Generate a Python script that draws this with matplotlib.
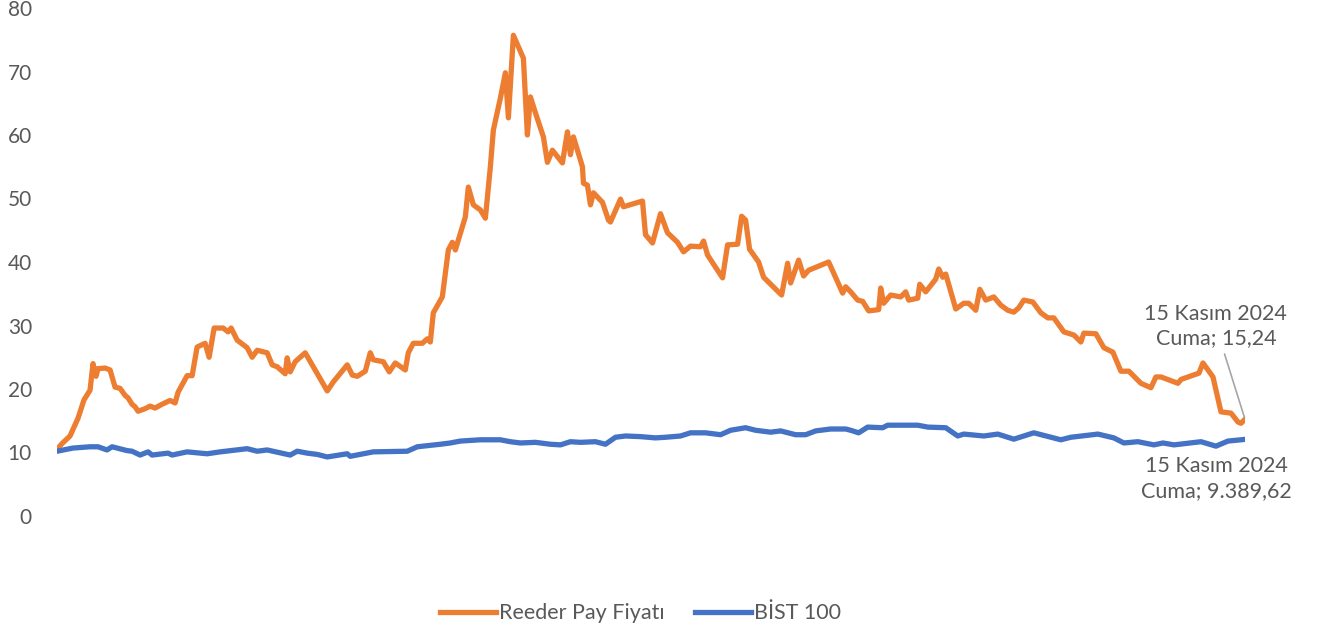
import matplotlib
matplotlib.use("Agg")
import matplotlib.pyplot as plt

# Trading-day positions (relative) and values
reeder_x = [0, 5, 13, 21, 27, 33, 36, 39, 41, 48, 53, 58, 63, 68, 71, 75, 78, 81, 88, 93, 98, 105,
            113, 118, 121, 130, 135, 140, 148, 152, 157, 166, 171, 174, 180, 190, 195, 200, 210, 215,
            220, 228, 230, 233, 238, 248, 270, 276, 290, 295, 300, 308, 313, 316, 326, 332, 338, 348,
            351, 356, 365, 370, 373, 376, 385, 391, 395, 398, 408, 411, 416, 423, 428, 433, 436, 443,
            448, 451, 456, 461, 466, 470, 473, 478, 486, 490, 495, 505, 510, 513, 516, 525, 526, 530,
            533, 536, 545, 551, 553, 563, 566, 585, 588, 595, 603, 610, 620, 626, 633, 643, 646, 650,
            665, 670, 680, 684, 688, 692, 701, 706, 724, 730, 733, 741, 746, 751, 771, 785, 788, 793,
            800, 805, 811, 821, 823, 826, 833, 843, 848, 851, 860, 862, 868, 878, 881, 885, 888, 898,
            906, 911, 918, 922, 928, 936, 943, 950, 956, 961, 966, 975, 983, 990, 996, 1006, 1016,
            1023, 1026, 1038, 1046, 1055, 1063, 1071, 1083, 1093, 1098, 1103, 1120, 1123, 1141, 1145,
            1155, 1163, 1173, 1180, 1183, 1187]
reeder = [10.5, 11.4, 12.6, 15.4, 18.3, 19.8, 24.0, 22.0, 23.2, 23.3, 23.0, 20.3, 20.1, 19.0, 18.6,
          17.6, 17.2, 16.5, 16.9, 17.3, 17.0, 17.6, 18.2, 17.8, 19.5, 22.1, 22.1, 26.6, 27.2, 25.0,
          29.6, 29.6, 29.0, 29.6, 27.7, 26.5, 25.0, 26.1, 25.7, 23.8, 23.5, 22.4, 24.9, 22.7, 24.3,
          25.7, 19.7, 21.1, 23.8, 22.2, 22.0, 22.8, 25.7, 24.6, 24.3, 22.7, 24.1, 23.0, 25.7, 27.2,
          27.2, 27.9, 27.4, 32.0, 34.5, 41.9, 43.1, 41.9, 47.1, 51.8, 49.0, 48.2, 46.9, 55.0, 60.8,
          65.8, 69.8, 62.7, 75.7, 73.9, 72.1, 60.0, 66.0, 63.5, 59.7, 55.7, 57.6, 55.6, 60.5, 56.9,
          59.7, 55.0, 52.4, 52.1, 49.0, 50.9, 49.4, 46.6, 46.3, 49.9, 48.7, 49.6, 44.3, 43.0, 47.6,
          44.6, 43.1, 41.6, 42.5, 42.4, 43.3, 41.1, 37.5, 42.7, 42.8, 47.2, 46.6, 42.0, 40.0, 37.6,
          34.8, 39.8, 36.7, 40.3, 37.8, 38.7, 40.0, 35.1, 36.1, 35.3, 34.0, 33.8, 32.3, 32.5, 35.9,
          33.5, 34.8, 34.5, 35.3, 34.0, 34.3, 36.5, 35.3, 37.3, 38.9, 37.6, 38.1, 32.6, 33.5, 33.5,
          32.4, 35.7, 34.0, 34.5, 33.2, 32.4, 32.1, 32.8, 34.0, 33.7, 32.0, 31.2, 31.2, 29.0, 28.5,
          27.4, 28.8, 28.7, 26.5, 25.8, 22.8, 22.8, 20.9, 20.2, 21.9, 21.9, 20.9, 21.5, 22.5, 24.1,
          21.9, 16.4, 16.2, 14.8, 14.6, 15.24]

bist_x = [0, 16, 33, 41, 50, 55, 70, 75, 83, 91, 95, 111, 115, 130, 150, 163, 190, 200, 210, 233,
          240, 250, 260, 270, 290, 293, 316, 350, 360, 383, 393, 403, 423, 443, 453, 463, 478, 493,
          503, 513, 523, 538, 548, 558, 568, 583, 598, 608, 623, 633, 648, 663, 673, 688, 698, 713,
          723, 738, 748, 758, 773, 788, 793, 801, 810, 825, 830, 860, 870, 888, 900, 906, 926, 940,
          956, 976, 1003, 1013, 1040, 1056, 1066, 1080, 1096, 1105, 1116, 1143, 1158, 1170, 1186]
bist = [10.2, 10.7, 10.9, 10.9, 10.4, 10.9, 10.3, 10.2, 9.6, 10.1, 9.6, 9.9, 9.6, 10.1, 9.8, 10.1,
        10.6, 10.2, 10.4, 9.6, 10.2, 9.9, 9.7, 9.3, 9.8, 9.4, 10.1, 10.2, 10.9, 11.3, 11.5, 11.8,
        12.0, 12.0, 11.7, 11.5, 11.6, 11.3, 11.2, 11.7, 11.6, 11.7, 11.3, 12.4, 12.6, 12.5, 12.3,
        12.4, 12.6, 13.1, 13.1, 12.8, 13.5, 13.9, 13.5, 13.2, 13.4, 12.8, 12.8, 13.4, 13.7, 13.7,
        13.5, 13.1, 14.0, 13.9, 14.3, 14.3, 14.0, 13.9, 12.6, 12.9, 12.6, 12.9, 12.1, 13.1, 12.0,
        12.4, 12.9, 12.3, 11.5, 11.7, 11.2, 11.5, 11.2, 11.7, 11.0, 11.8, 12.05]

series_names = ["Reeder Pay Fiyatı", "BİST 100"]
last_labels = ["15 Kasım 2024\nCuma; 15,24", "15 Kasım 2024\nCuma; 9.389,62"]
yticks = [0, 10, 20, 30, 40, 50, 60, 70, 80]

ORANGE = "#ED7D31"
BLUE = "#4472C4"
GRAY = "#595959"

plt.rcParams["font.family"] = ["Lato", "DejaVu Sans"]

fig = plt.figure(figsize=(13.21, 6.32), dpi=100)
ax = fig.add_axes([57 / 1321, 116 / 632, (1245 - 57) / 1321, 508 / 632])

ax.plot(reeder_x, reeder, color=ORANGE, lw=3.8, solid_joinstyle="round", label=series_names[0])
ax.plot(bist_x, bist, color=BLUE, lw=3.8, solid_joinstyle="round", label=series_names[1])

ax.set_xlim(reeder_x[0], reeder_x[-1])
ax.set_ylim(0, 80)
ax.set_yticks(yticks)
ax.set_yticklabels([str(t) for t in yticks], fontsize=15, color=GRAY)
ax.tick_params(axis="y", length=0, pad=18)
ax.set_xticks([])
for s in ax.spines.values():
    s.set_visible(False)

ax.annotate(last_labels[0], xy=(reeder_x[-1], reeder[-1]), xytext=(-21, 67),
            textcoords="offset points", ha="center", va="center", fontsize=15.5, color=GRAY,
            linespacing=1.3,
            arrowprops=dict(arrowstyle="-", color="#A6A6A6", lw=1.2, shrinkA=2, shrinkB=1),
            annotation_clip=False)
ax.annotate(last_labels[1], xy=(bist_x[-1], bist[-1]), xytext=(-20, -28),
            textcoords="offset points", ha="center", va="center", fontsize=15.5, color=GRAY,
            linespacing=1.3, annotation_clip=False)

leg = fig.legend(loc="center", bbox_to_anchor=(0.485, 0.03), ncol=2, frameon=False,
                 fontsize=15.5, handlelength=2.6, handletextpad=0.15, columnspacing=1.4,
                 labelcolor=GRAY)

fig.savefig("out.png", dpi=100)
